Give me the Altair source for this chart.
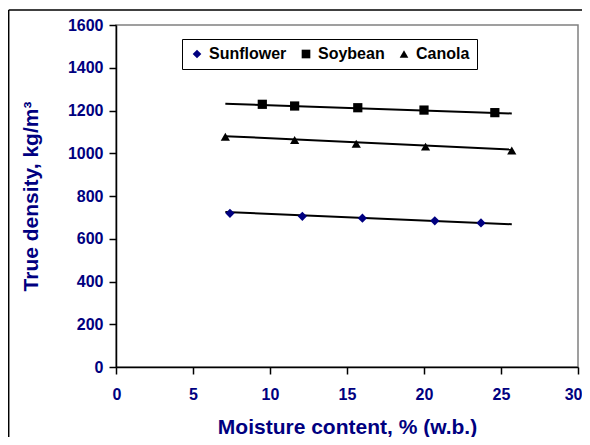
import altair as alt
import pandas as pd

# ---- data ----
series_names = ["Sunflower", "Soybean", "Canola"]

sun_x = [7.4, 12.1, 16.0, 20.7, 23.7]
sun_y = [719, 705, 696, 684, 674]

soy_x = [9.5, 11.6, 15.7, 20.0, 24.6]
soy_y = [1229, 1221, 1213, 1202, 1190]

can_x = [7.1, 11.6, 15.6, 20.1, 25.7]
can_y = [1077, 1062, 1044, 1031, 1013]

trend_x = [7.1, 25.7]
sun_trend = [725, 668]
soy_trend = [1232, 1186]
can_trend = [1080, 1017]

x_ticks = [0, 5, 10, 15, 20, 25, 30]
y_ticks = [0, 200, 400, 600, 800, 1000, 1200, 1400, 1600]

# ---- tables ----
pts = pd.DataFrame(
    [{"Series": "Sunflower", "x": a, "y": b} for a, b in zip(sun_x, sun_y)]
    + [{"Series": "Soybean", "x": a, "y": b} for a, b in zip(soy_x, soy_y)]
    + [{"Series": "Canola", "x": a, "y": b} for a, b in zip(can_x, can_y)]
)
trend = pd.DataFrame(
    [{"Series": "Sunflower", "x": a, "y": b} for a, b in zip(trend_x, sun_trend)]
    + [{"Series": "Soybean", "x": a, "y": b} for a, b in zip(trend_x, soy_trend)]
    + [{"Series": "Canola", "x": a, "y": b} for a, b in zip(trend_x, can_trend)]
)
one = pd.DataFrame({"k": [0]})

FONT = "Liberation Sans"
NAVY = "#000080"

xenc = alt.X("x:Q", scale=alt.Scale(domain=[0, 30], nice=False),
             axis=alt.Axis(values=x_ticks, format="d", title="Moisture content, % (w.b.)",
                           labelFlush=True, labelFlushOffset=4))
yenc = alt.Y("y:Q", scale=alt.Scale(domain=[0, 1600], nice=False),
             axis=alt.Axis(values=y_ticks, format="d", title="True density, kg/m³"))

lines = alt.Chart(trend).mark_line(color="black", strokeWidth=2).encode(
    x=xenc, y=yenc, detail="Series:N"
)

points = alt.Chart(pts).mark_point(filled=True, opacity=1, size=85).encode(
    x="x:Q",
    y="y:Q",
    color=alt.Color("Series:N",
                    scale=alt.Scale(domain=series_names, range=[NAVY, "black", "black"]),
                    legend=alt.Legend(orient="none", legendX=66, legendY=14,
                                      direction="horizontal", title=None,
                                      padding=7, strokeColor="black", fillColor="white",
                                      columnPadding=11, labelOffset=4,
                                      labelFont=FONT, labelFontSize=16, labelFontWeight="bold",
                                      labelColor="black", symbolSize=75, symbolStrokeWidth=0)),
    shape=alt.Shape("Series:N",
                    scale=alt.Scale(domain=series_names,
                                    range=["diamond", "square", "triangle-up"])),
)

border_left = alt.Chart(one).mark_rule(color="black", strokeWidth=1.5, clip=False).encode(
    x=alt.value(-107.3), y=alt.value(-15), y2=alt.value(420)
)
border_top = alt.Chart(one).mark_rule(color="black", strokeWidth=1.5, clip=False).encode(
    x=alt.value(-107.3), x2=alt.value(480), y=alt.value(-15)
)

chart = alt.layer(lines, points, border_left, border_top).properties(
    width=462, height=342,
    padding={"left": 108, "top": 17, "right": 4, "bottom": 70},
    autosize=alt.AutoSizeParams(type="none"),
).configure_view(
    stroke="#808080", strokeWidth=1.5
).configure_axis(
    grid=False,
    domainColor="black", domainWidth=1.5,
    tickColor="black", tickWidth=1.5, tickSize=7,
    labelFont=FONT, labelFontSize=16, labelFontWeight="bold", labelColor=NAVY,
    titleFont=FONT, titleFontSize=21, titleFontWeight="bold", titleColor=NAVY,
).configure_axisX(
    labelPadding=12, titlePadding=14
).configure_axisY(
    labelPadding=6, titlePadding=26, labelFlush=False
)

chart.save("out.html", embed_options={"renderer": "svg", "actions": False})
